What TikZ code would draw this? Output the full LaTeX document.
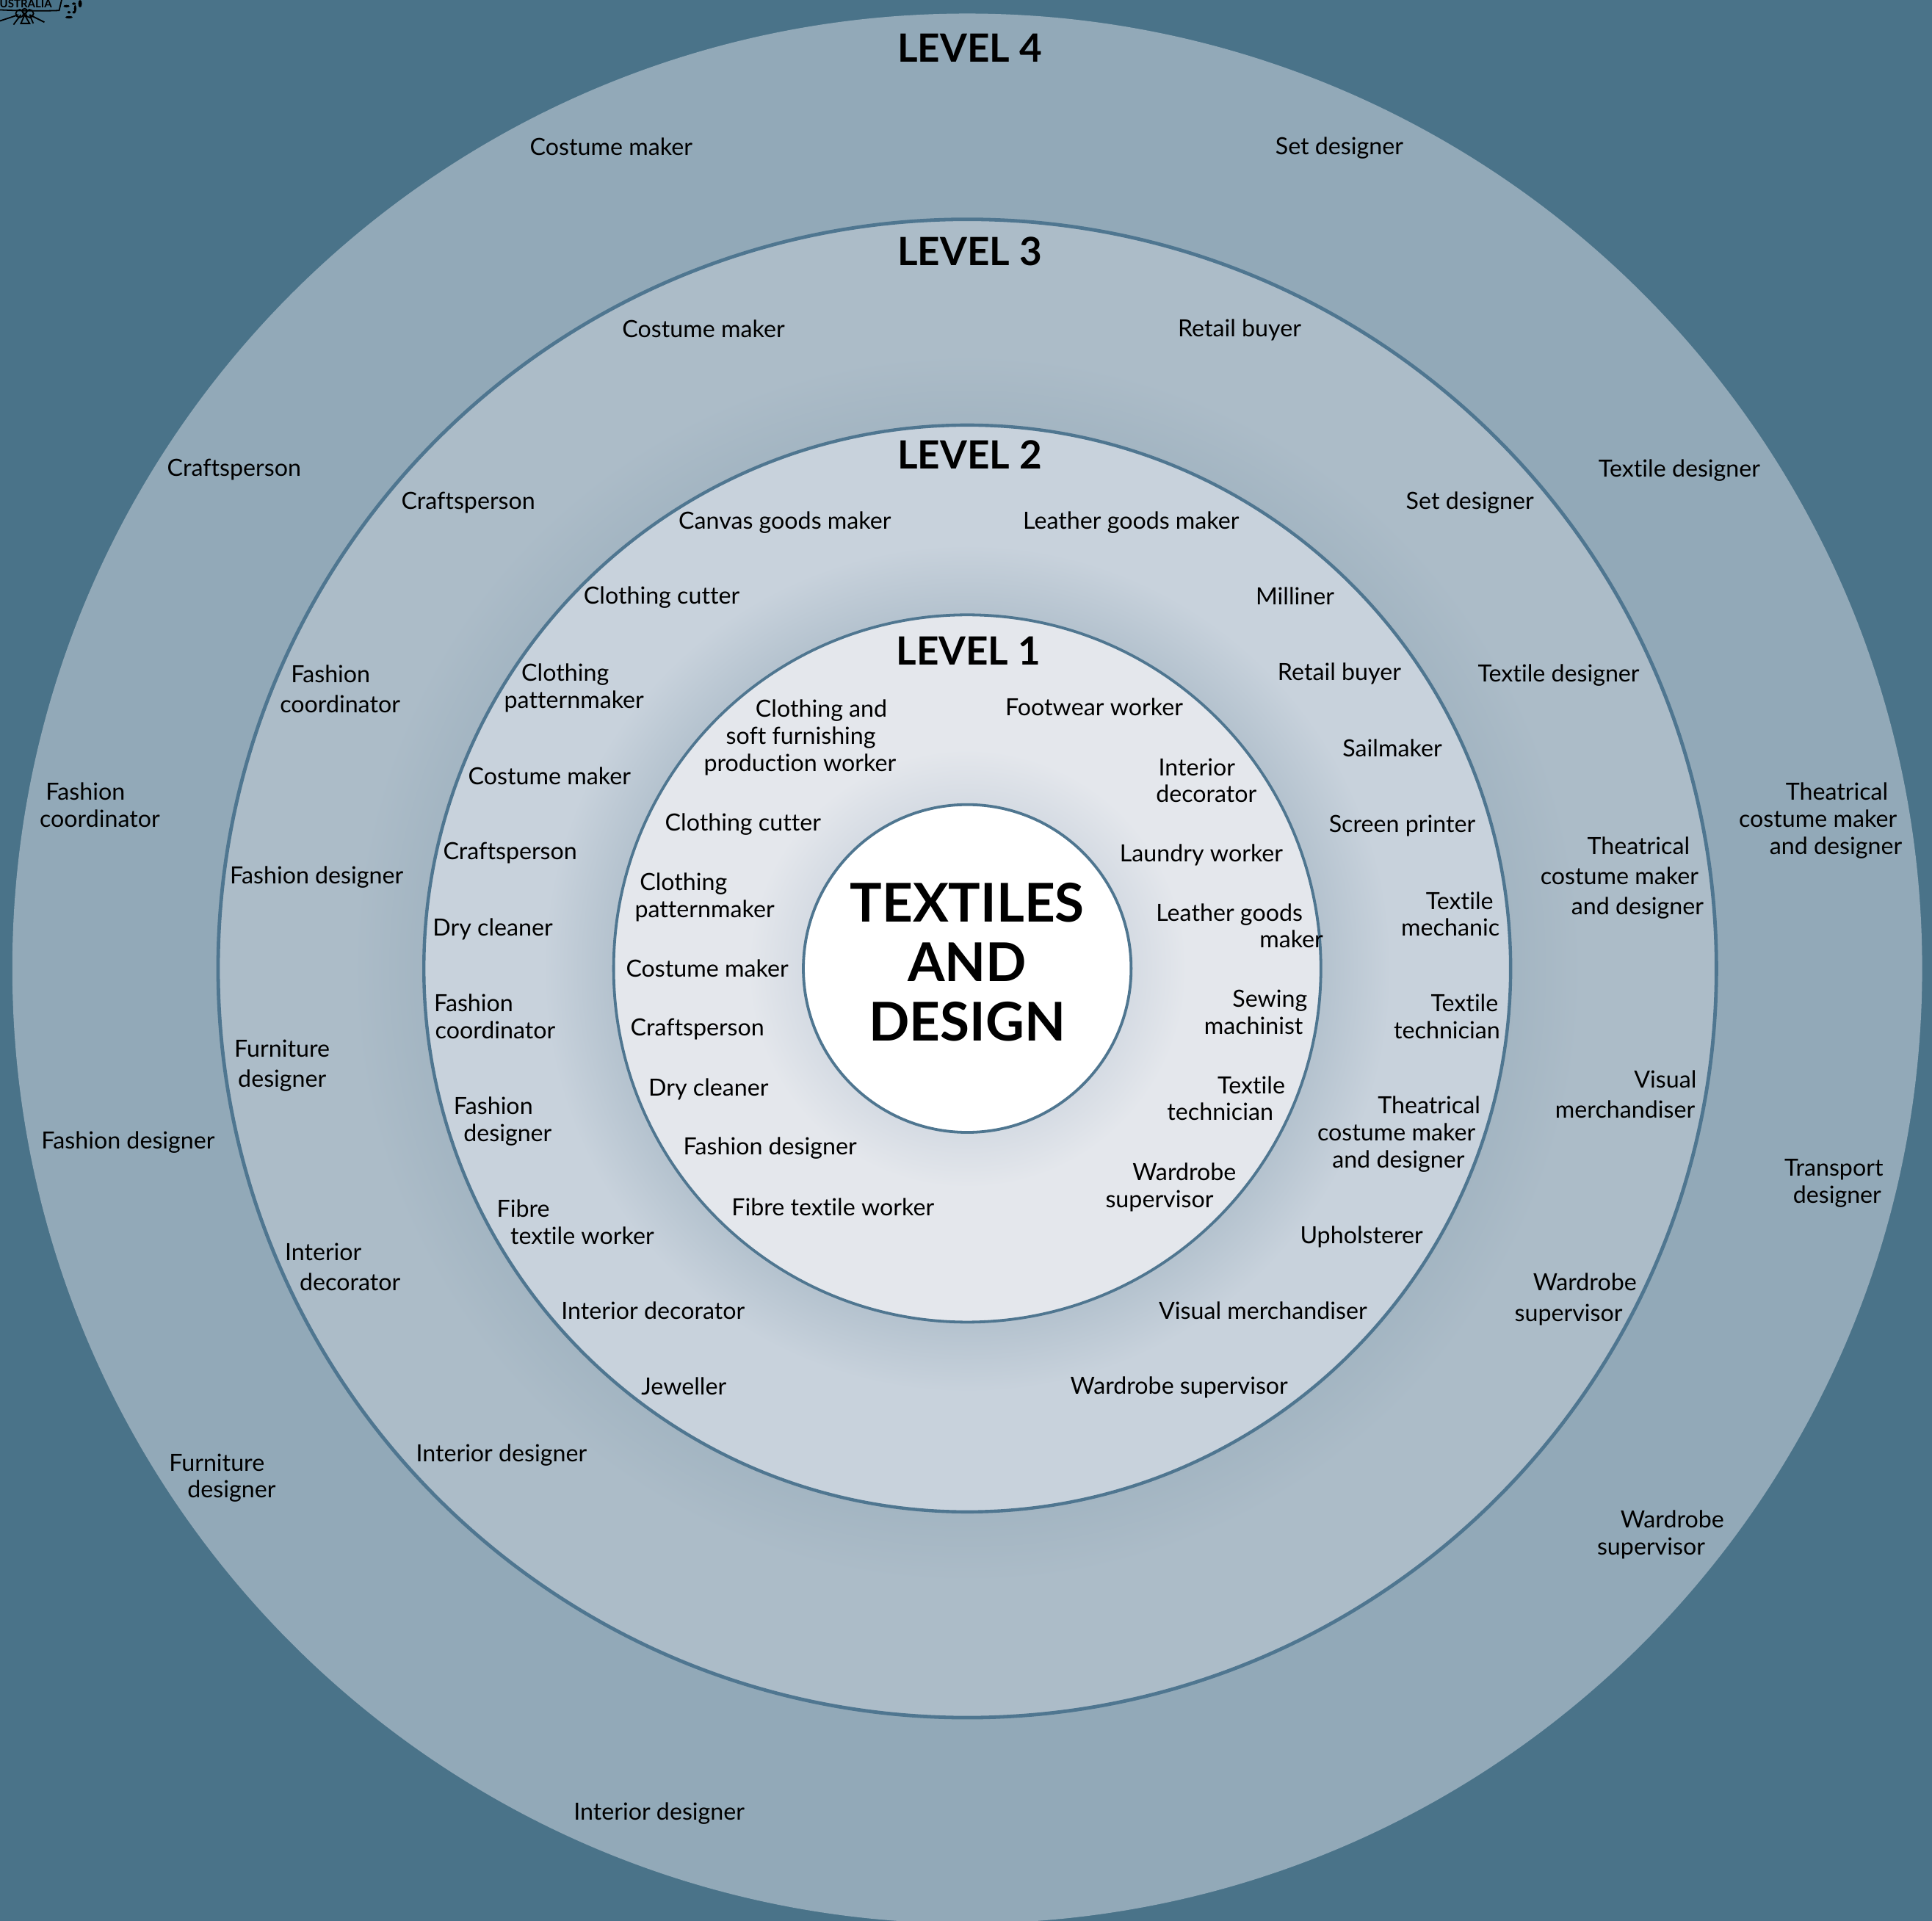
\documentclass[tikz,border=0pt]{standalone}
\usepackage{fontspec}
\setmainfont{Lato}[Ligatures=NoCommon]
\definecolor{bgblue}{HTML}{4A7389}
\definecolor{ringline}{HTML}{4F7690}
\definecolor{lfour}{HTML}{92A9B8}
\definecolor{lthree}{HTML}{ACBCC8}
\definecolor{lthreedk}{HTML}{A3B5C2}
\definecolor{ltwo}{HTML}{C8D2DC}
\definecolor{ltwodk}{HTML}{B4C2CE}
\definecolor{lone}{HTML}{E4E7EC}
\definecolor{lonedk}{HTML}{D5DBE3}
\pgfdeclareradialshading{ringthree}{\pgfpoint{0bp}{0bp}}{color(0bp)=(lthreedk);color(18.1bp)=(lthreedk);color(20.5bp)=(lthree);color(50bp)=(lthree)}
\pgfdeclareradialshading{ringtwo}{\pgfpoint{0bp}{0bp}}{color(0bp)=(ltwodk);color(16.25bp)=(ltwodk);color(19.5bp)=(ltwo);color(50bp)=(ltwo)}
\pgfdeclareradialshading{ringone}{\pgfpoint{0bp}{0bp}}{color(0bp)=(lonedk);color(11.6bp)=(lonedk);color(15.5bp)=(lone);color(50bp)=(lone)}
\newlength{\myu}\setlength{\myu}{0.839pt}
\newcommand{\ind}[1]{\hspace*{#1\myu}}
\newcommand{\lstrut}{\rule[-2pt]{0pt}{13pt}}
\newcommand{\labfont}{\fontsize{16.1}{18.4}\selectfont}
\newcommand{\labwide}{\fontsize{16.1}{20.6}\selectfont}
\newcommand{\levfont}{\fontsize{26.5}{28}\selectfont\bfseries}
\newcommand{\titlefont}{\fontsize{36.4}{40}\selectfont\bfseries}
\tikzset{
  lab/.style={inner sep=0pt,align=left,text=black,font=\labfont,execute at begin node=\lstrut,execute at end node=\lstrut},
  labw/.style={lab,font=\labwide},
  lev/.style={inner sep=0pt,text=black,font=\levfont},
  ttl/.style={inner sep=0pt,align=center,text=black,font=\titlefont},
  emb/.style={draw=black,line width=0.9pt,fill=none}
}
\begin{document}
\begin{tikzpicture}[x=0.839pt,y=-0.839pt]
\useasboundingbox (0,0) rectangle (1568,1559.05);
\fill[bgblue] (0,0) rectangle (1568,1559.05);
\begin{scope}
\clip (0,0) rectangle (1568,1559.05);
\coordinate (c) at (785,786);
\fill[lfour] (c) circle (775);
\shade[shading=ringthree] (c) circle (608);
\draw[ringline,line width=2.4pt] (c) circle (608);
\shade[shading=ringtwo] (c) circle (441);
\draw[ringline,line width=2.2pt] (c) circle (441);
\shade[shading=ringone] (c) circle (287);
\draw[ringline,line width=1.9pt] (c) circle (287);
\fill[white] (c) circle (133);
\draw[ringline,line width=1.9pt] (c) circle (133);
% emblem fragment
\draw[emb] (0,8) .. controls (20,9) and (35,9) .. (48,8.5) -- (50,0);
\node[inner sep=0pt,text=black,font=\fontsize{7.5}{8}\selectfont\bfseries] (embtxt) at (21,3) {USTRALIA};
\draw[emb] (16,11) circle (3.2);
\draw[emb] (24,11) circle (3.2);
\draw[emb] (20,9) circle (2);
\draw[emb] (0,17) -- (15,12) (11,20) -- (17,12) (24,12) -- (27,19) (24,12) -- (36,18) (17,19) -- (20,12) -- (24,19) -- cycle;
\fill[black] (54,5) ellipse (2.5 and 1) (56,10) ellipse (1.3 and 1) (60,10) ellipse (1.3 and 1) (61,7) ellipse (1 and 3) (56,14) ellipse (3 and 1) (60,3) ellipse (1.5 and 1) (65,3) ellipse (1.5 and 3);
\end{scope}
% centre
\node[ttl] (title) at (785,781) {TEXTILES\\[0.6pt]AND\\[0.6pt]DESIGN};
% level titles
\node[lev] (lev4) at (787,39) {LEVEL 4};
\node[lev] (lev3) at (787,204) {LEVEL 3};
\node[lev] (lev2) at (787,369) {LEVEL 2};
\node[lev] (lev1) at (786,528) {LEVEL 1};
% level 4
\node[lab] (a1) at (496,120) {Costume maker};
\node[lab] (a2) at (1087,120) {Set designer};
\node[lab] (a3) at (190,381) {Craftsperson};
\node[lab] (a4) at (1363,382) {Textile designer};
\node[lab,anchor=west] (a5) at (32,654.5) {\ind{5}Fashion\\coordinator};
\node[lab,anchor=west] (a6) at (1411,666) {\ind{38}Theatrical\\costume maker\\\ind{25}and designer};
\node[lab] (a7) at (104,927) {Fashion designer};
\node[lab,anchor=west] (a8) at (1448,960.5) {Transport\\\ind{7}designer};
\node[lab,anchor=west] (a9) at (137,1199.5) {Furniture\\\ind{15}designer};
\node[lab,anchor=west] (a10) at (1296,1245.5) {\ind{19}Wardrobe\\supervisor};
\node[lab] (a11) at (535,1472) {Interior designer};
% level 3
\node[lab] (b1) at (571,268) {Costume maker};
\node[lab] (b2) at (1006,268) {Retail buyer};
\node[lab] (b3) at (380,408) {Craftsperson};
\node[lab] (b4) at (1193,408) {Set designer};
\node[labw,anchor=west] (b5) at (227,560.5) {\ind{9}Fashion\\coordinator};
\node[lab] (b6) at (1265,548) {Textile designer};
\node[lab] (b7) at (257,712) {Fashion designer};
\node[labw,anchor=west] (b8) at (1250,712.5) {\ind{38}Theatrical\\costume maker\\\ind{25}and designer};
\node[labw,anchor=west] (b9) at (190,865) {Furniture\\\ind{3}designer};
\node[labw,anchor=west] (b10) at (1262,889.5) {\ind{64}Visual\\merchandiser};
\node[labw,anchor=west] (b11) at (231,1029.5) {Interior\\\ind{12}decorator};
\node[labw,anchor=west] (b12) at (1229,1054.5) {\ind{15}Wardrobe\\supervisor};
\node[lab] (b13) at (407,1181) {Interior designer};
% level 2
\node[lab] (d1) at (637,424) {Canvas goods maker};
\node[lab] (d2) at (918,424) {Leather goods maker};
\node[lab] (d3) at (537,485) {Clothing cutter};
\node[lab] (d4) at (1051,485) {Milliner};
\node[lab,anchor=west] (d5) at (409,558.5) {\ind{14}Clothing\\patternmaker};
\node[lab] (d6) at (1087,547) {Retail buyer};
\node[lab] (d7) at (446,631) {Costume maker};
\node[lab] (d8) at (1130,608) {Sailmaker};
\node[lab] (d9) at (414,692) {Craftsperson};
\node[lab] (d10) at (1138,670) {Screen printer};
\node[lab] (d11) at (400,754) {Dry cleaner};
\node[lab,anchor=west] (d12) at (1137,743) {\ind{20}Textile\\mechanic};
\node[lab,anchor=west] (d13) at (352,826) {Fashion\\\ind{1}coordinator};
\node[lab,anchor=west] (d14) at (1131,826) {\ind{30}Textile\\technician};
\node[lab,anchor=west] (d15) at (368,910) {Fashion\\\ind{8}designer};
\node[lab,anchor=west] (d16) at (1069,920.5) {\ind{49}Theatrical\\costume maker\\\ind{12}and designer};
\node[lab,anchor=west] (d17) at (403,993) {Fibre\\\ind{11}textile worker};
\node[lab] (d18) at (1105,1004) {Upholsterer};
\node[lab] (d19) at (530,1065) {Interior decorator};
\node[lab] (d20) at (1025,1065) {Visual merchandiser};
\node[lab] (d21) at (555,1126) {Jeweller};
\node[lab] (d22) at (957,1126) {Wardrobe supervisor};
% level 1
\node[lab,anchor=west] (e1) at (571,598.5) {\ind{42}Clothing and\\\ind{18}soft furnishing\\production worker};
\node[lab] (e2) at (888,575) {Footwear worker};
\node[lab,anchor=west] (e3) at (938,634.5) {\ind{2}Interior\\decorator};
\node[lab] (e4) at (603,669) {Clothing cutter};
\node[lab] (e5) at (975,694) {Laundry worker};
\node[lab,anchor=west] (e6) at (515,728) {\ind{4}Clothing\\patternmaker};
\node[lab,anchor=west] (e7) at (938,752.5) {Leather goods\\\ind{84}maker};
\node[lab] (e8) at (574,787) {Costume maker};
\node[lab,anchor=west] (e9) at (977,822.5) {\ind{23}Sewing\\machinist};
\node[lab] (e10) at (566,835) {Craftsperson};
\node[lab] (e11) at (575,884) {Dry cleaner};
\node[lab,anchor=west] (e12) at (947,892.5) {\ind{41}Textile\\technician};
\node[lab] (e13) at (625,932) {Fashion designer};
\node[lab,anchor=west] (e14) at (897,963.5) {\ind{22}Wardrobe\\supervisor};
\node[lab] (e15) at (676,981) {Fibre textile worker};
\end{tikzpicture}
\end{document}
